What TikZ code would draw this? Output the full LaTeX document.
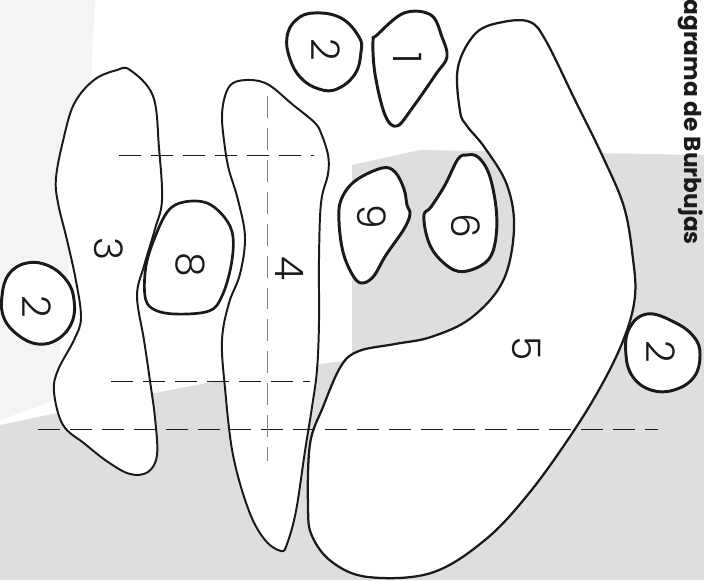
\documentclass[tikz,border=0pt]{standalone}
\usepackage{fontspec}
\usetikzlibrary{positioning}
\IfFontExistsTF{Poppins Light}{\newfontfamily\numfont{Poppins Light}}{\newfontfamily\numfont{Poppins}}
\newfontfamily\titlefont{Poppins}
\definecolor{paperwhite}{RGB}{255, 255, 255}
\definecolor{softgray}{RGB}{243, 244, 245}
\definecolor{wallgray}{RGB}{221, 222, 224}
\definecolor{inkblack}{RGB}{26, 26, 26}
\definecolor{guidegray}{RGB}{130, 130, 130}
\tikzset{
    bubble/.style={draw=inkblack, fill=paperwhite, line join=round},
    bubblethick/.style={bubble, line width=2.1pt},
    bubblethin/.style={bubble, line width=1.4pt},
    guideline/.style={draw=inkblack, line width=0.7pt, dash pattern=on 15.6pt off 7.1pt},
    guidevert/.style={guideline, draw=guidegray},
    numlabel/.style={inner sep=0pt, rotate=-90, text=inkblack,
        font=\numfont\fontsize{28}{30}\selectfont},
    titletext/.style={inner sep=0pt, rotate=-90, text=inkblack,
        font=\titlefont\bfseries\fontsize{16.5}{20}\selectfont}
}

\begin{document}
\begin{tikzpicture}[x=0.025cm, y=-0.025cm]
    \useasboundingbox (0,0) rectangle (704,580);
    \clip (0,0) rectangle (704,580);

    % Fondo
    \fill[paperwhite] (0,0) rectangle (704,580);
    \fill[softgray] (0,0) -- (95,0) -- (90,100) -- (70,250) -- (55,400) -- (0,420) -- cycle;
    \fill[wallgray] (0,425) .. controls (120,400) and (250,372) .. (352,360)
        -- (352,165) -- (420,150) -- (704,155) -- (704,580) -- (0,580) -- cycle;

    % Burbuja 5
    \draw[bubblethin, line width=1.6pt] plot[smooth cycle, tension=0.6] coordinates {
        (460,111) (458,67) (476,33) (503,22) (530,22) (546,41) (575,100) (602,155)
        (624,207) (633,259) (635,296) (626,333) (606,377) (575,429) (530,492)
        (485,540) (431,573) (368,577) (332,562) (312,536) (308,507) (310,444)
        (323,407) (341,366) (359,351) (395,344) (431,337) (471,318) (503,281)
        (514,229) (507,185) (485,148) (467,126)};

    % Burbuja 3
    \draw[bubblethin] plot[smooth cycle, tension=0.6] coordinates {
        (130,70) (153,96) (159,148) (162,200) (155,229) (144,266) (137,296)
        (144,340) (150,381) (155,418) (157,455) (148,472) (130,474) (108,462)
        (85,444) (63,425) (54,392) (58,370) (74,340) (81,318) (76,281) (67,240)
        (58,203) (56,178) (63,141) (74,104) (94,80) (117,70)};

    % Burbuja 4
    \draw[bubblethin] plot[smooth cycle, tension=0.6] coordinates {
        (251,80) (233,83) (225,96) (222,118) (225,148) (229,170) (238,200)
        (245,237) (240,274) (229,303) (222,340) (225,388) (233,455) (249,511)
        (265,540) (281,551) (287,544) (296,511) (305,451) (312,407) (317,370)
        (319,322) (319,259) (321,203) (328,174) (328,155) (321,133) (314,122)
        (292,104) (269,85)};

    % Burbujas pequeñas
    \draw[bubblethick] plot[smooth cycle, tension=0.7] coordinates {
        (296,20) (314,13) (341,18) (359,37) (361,52) (355,74) (337,89) (319,89)
        (301,78) (290,59) (287,37)};
    \draw[bubblethick] plot[smooth cycle, tension=0.6] coordinates {
        (377,35) (404,13) (431,15) (442,37) (447,57) (436,74) (413,107) (397,126)
        (385,115) (375,74) (373,41)};
    \draw[bubblethick] plot[smooth cycle, tension=0.7] coordinates {
        (9,274) (27,263) (49,266) (67,281) (74,300) (72,322) (58,339) (38,344)
        (18,335) (4,318) (2,296)};
    \draw[bubblethick, line width=1.9pt] plot[smooth cycle, tension=0.6] coordinates {
        (184,202) (207,203) (225,218) (233,237) (231,266) (222,296) (209,311)
        (175,314) (153,309) (145,296) (146,266) (155,237) (168,211)};
    \draw[bubblethick] plot[smooth cycle, tension=0.6] coordinates {
        (341,200) (355,181) (382,168) (395,172) (404,189) (407,205) (410,214)
        (404,229) (386,255) (373,277) (361,283) (352,274) (343,252) (339,222)};
    \draw[bubblethick] plot[smooth cycle, tension=0.6] coordinates {
        (467,155) (458,159) (445,185) (431,207) (424,215) (427,237) (436,255)
        (454,270) (471,270) (489,259) (496,237) (496,207) (489,174) (478,157)};
    \draw[bubblethick] plot[smooth cycle, tension=0.7] coordinates {
        (647,314) (674,322) (694,337) (700,355) (694,377) (674,390) (651,390)
        (633,377) (626,355) (629,329)};

    % Líneas guía
    \coordinate (g1a) at (119,155);
    \coordinate (g1b) at (314,155);
    \coordinate (g2a) at (111,381);
    \coordinate (g2b) at (310,381);
    \coordinate (g3a) at (38,429);
    \coordinate (g3b) at (658,429);
    \coordinate (gva) at (267,96);
    \coordinate (gvb) at (267,461);
    \draw[guideline] (g1a) -- (g1b);
    \draw[guideline] (g2a) -- (g2b);
    \draw[guideline] (g3a) -- (g3b);
    \draw[guidevert] (gva) -- (gvb);

    % Números
    \node[numlabel] (n2top) at (326,50) {2};
    \node[numlabel] (n1) at (408,58) {1};
    \node[numlabel] (n3) at (109,249) {3};
    \node[numlabel] (n2left) at (37,307) {2};
    \node[numlabel] (n8) at (190,265) {8};
    \node[numlabel] (n4) at (290,269) {4};
    \node[numlabel] (n9) at (372,217) {9};
    \node[numlabel] (n6) at (466,226) {6};
    \node[numlabel] (n5) at (527,349) {5};
    \node[numlabel] (n2right) at (661,352) {2};

    % Título
    \node[titletext, anchor=base east] (title) at (684,245) {agrama de Burbujas};
\end{tikzpicture}
\end{document}
